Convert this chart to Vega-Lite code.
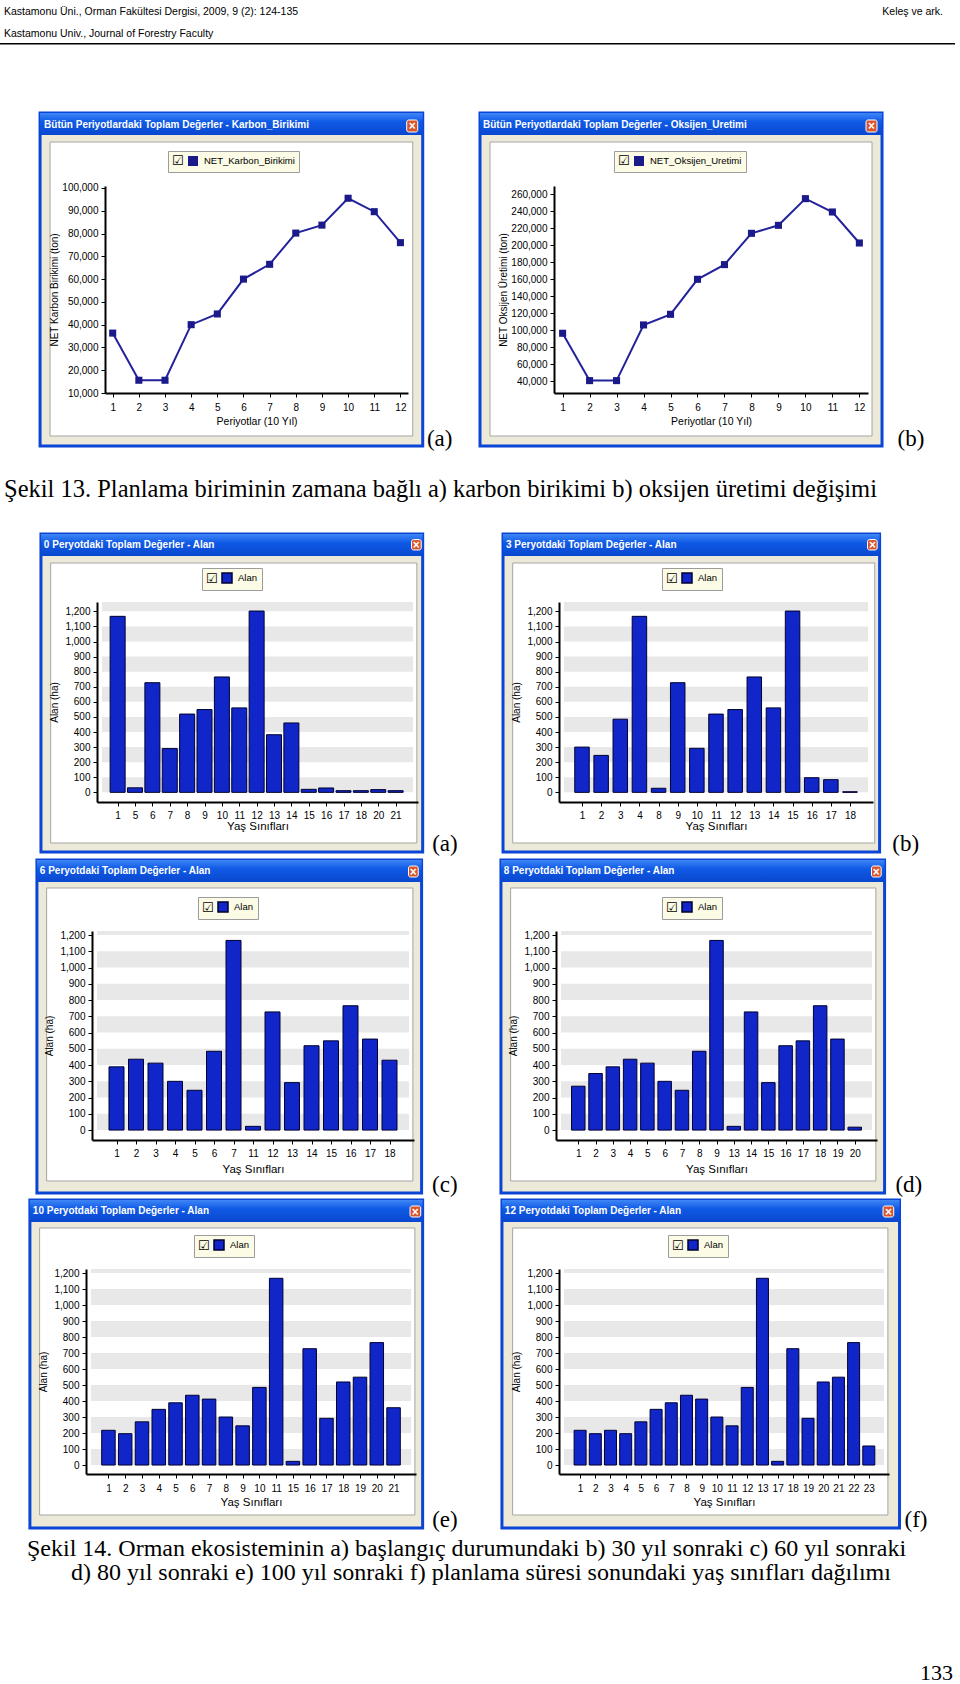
{
"$schema": "https://vega.github.io/schema/vega-lite/v6.json",
"background": "#ffffff",
"padding": 0,
"autosize": {"type": "pad"},
"spacing": 0,
"bounds": "flush",
"config": {
 "view": {"stroke": null},
 "axis": {"grid": false, "zindex": 1, "domainColor": "#000000", "domainWidth": 2, "tickColor": "#000000", "tickSize": 4, "tickWidth": 1, "labelFont": "Liberation Sans", "labelFontSize": 10, "labelColor": "#000000", "labelPadding": 3, "titleFont": "Liberation Sans", "titleFontSize": 10, "titleFontWeight": "normal", "titleColor": "#000000", "labelFlush": false, "labelOverlap": false},
 "legend": {"orient": "none", "direction": "horizontal", "fillColor": "#fbfbe6", "strokeColor": "#9c9c9c", "padding": 4, "labelFont": "Liberation Sans", "labelFontSize": 9.5, "labelColor": "#000000", "labelOffset": 5, "titleFont": "DejaVu Sans", "titleFontSize": 13, "titleFontWeight": "normal", "titleColor": "#000000", "titleOrient": "left", "titlePadding": 3, "symbolType": "square", "symbolSize": 100},
 "style": {
  "win": {"stroke": "#0b45d6", "strokeWidth": 3},
  "ttl": {"align": "left", "baseline": "middle", "color": "#ffffff", "font": "Liberation Sans", "fontSize": 10, "fontWeight": "bold"},
  "clsr": {"stroke": "#ffffff", "strokeWidth": 1, "cornerRadius": 2},
  "clst": {"color": "#ffffff", "font": "Liberation Sans", "fontSize": 12, "fontWeight": "bold", "baseline": "middle", "align": "center"},
  "panel": {"stroke": "#a5a5a5", "strokeWidth": 1},
  "lbl": {"font": "Liberation Serif", "fontSize": 23, "color": "#000000", "baseline": "middle", "align": "center"},
  "hdr": {"font": "Liberation Sans", "fontSize": 10.5, "color": "#000000", "baseline": "middle"},
  "cap": {"font": "Liberation Serif", "fontSize": 24.5, "color": "#000000", "baseline": "middle"}
 }
},
"datasets": {
 "karbon": [{"p":1,"v":36300},{"p":2,"v":15600},{"p":3,"v":15600},{"p":4,"v":40000},{"p":5,"v":44700},{"p":6,"v":60000},{"p":7,"v":66500},{"p":8,"v":80200},{"p":9,"v":83700},{"p":10,"v":95500},{"p":11,"v":89600},{"p":12,"v":76000}],
 "oksijen": [{"p":1,"v":96500},{"p":2,"v":40800},{"p":3,"v":40800},{"p":4,"v":106300},{"p":5,"v":118800},{"p":6,"v":160000},{"p":7,"v":177300},{"p":8,"v":214100},{"p":9,"v":223500},{"p":10,"v":254900},{"p":11,"v":239200},{"p":12,"v":202700}],
 "bands": [{"lo":0,"hi":100},{"lo":200,"hi":300},{"lo":400,"hi":500},{"lo":600,"hi":700},{"lo":800,"hi":900},{"lo":1000,"hi":1100},{"lo":1200,"hi":1400}],
 "p0": [{"s":1,"ha":1167},{"s":5,"ha":30},{"s":6,"ha":727},{"s":7,"ha":290},{"s":8,"ha":519},{"s":9,"ha":549},{"s":10,"ha":765},{"s":11,"ha":560},{"s":12,"ha":1202},{"s":13,"ha":382},{"s":14,"ha":460},{"s":15,"ha":20},{"s":16,"ha":29},{"s":17,"ha":11},{"s":18,"ha":11},{"s":20,"ha":18},{"s":21,"ha":11}],
 "p3": [{"s":1,"ha":300},{"s":2,"ha":245},{"s":3,"ha":485},{"s":4,"ha":1167},{"s":8,"ha":27},{"s":9,"ha":727},{"s":10,"ha":292},{"s":11,"ha":519},{"s":12,"ha":549},{"s":13,"ha":765},{"s":14,"ha":560},{"s":15,"ha":1202},{"s":16,"ha":97},{"s":17,"ha":84},{"s":18,"ha":4}],
 "p6": [{"s":1,"ha":389},{"s":2,"ha":436},{"s":3,"ha":412},{"s":4,"ha":300},{"s":5,"ha":245},{"s":6,"ha":485},{"s":7,"ha":1167},{"s":11,"ha":23},{"s":12,"ha":727},{"s":13,"ha":292},{"s":14,"ha":519},{"s":15,"ha":549},{"s":16,"ha":765},{"s":17,"ha":560},{"s":18,"ha":430}],
 "p8": [{"s":1,"ha":270},{"s":2,"ha":348},{"s":3,"ha":389},{"s":4,"ha":436},{"s":5,"ha":412},{"s":6,"ha":300},{"s":7,"ha":245},{"s":8,"ha":485},{"s":9,"ha":1167},{"s":13,"ha":23},{"s":14,"ha":727},{"s":15,"ha":292},{"s":16,"ha":519},{"s":17,"ha":549},{"s":18,"ha":765},{"s":19,"ha":560},{"s":20,"ha":18}],
 "p10": [{"s":1,"ha":217},{"s":2,"ha":196},{"s":3,"ha":270},{"s":4,"ha":348},{"s":5,"ha":389},{"s":6,"ha":436},{"s":7,"ha":412},{"s":8,"ha":300},{"s":9,"ha":245},{"s":10,"ha":485},{"s":11,"ha":1167},{"s":15,"ha":23},{"s":16,"ha":727},{"s":17,"ha":292},{"s":18,"ha":519},{"s":19,"ha":549},{"s":20,"ha":765},{"s":21,"ha":358}],
 "p12": [{"s":1,"ha":217},{"s":2,"ha":196},{"s":3,"ha":217},{"s":4,"ha":196},{"s":5,"ha":270},{"s":6,"ha":348},{"s":7,"ha":389},{"s":8,"ha":436},{"s":9,"ha":412},{"s":10,"ha":300},{"s":11,"ha":245},{"s":12,"ha":485},{"s":13,"ha":1167},{"s":17,"ha":23},{"s":18,"ha":727},{"s":19,"ha":292},{"s":20,"ha":519},{"s":21,"ha":549},{"s":22,"ha":765},{"s":23,"ha":119}]
},
"vconcat": [
 {"width": 960, "height": 24, "data": {"values": [{}]}, "layer": [
  {"mark": {"type": "text", "style": "hdr", "align": "left", "dx": 4}, "encoding": {"x": {"datum": 0, "type": "quantitative", "scale": {"domain": [0, 1], "nice": false}, "axis": null}, "text": {"value": "Kastamonu Üni., Orman Fakültesi Dergisi, 2009, 9 (2): 124-135"}}},
  {"mark": {"type": "text", "style": "hdr", "align": "right", "dx": -17}, "encoding": {"x": {"datum": 1, "type": "quantitative", "axis": null}, "text": {"value": "Keleş ve ark."}}}
 ]},
 {"width": 960, "height": 19, "data": {"values": [{}]}, "mark": {"type": "text", "style": "hdr", "align": "left", "dx": 4}, "encoding": {"x": {"datum": 0, "type": "quantitative", "scale": {"domain": [0, 1], "nice": false}, "axis": null}, "text": {"value": "Kastamonu Univ., Journal of Forestry Faculty"}}},
 {"width": 955, "height": 1.5, "data": {"values": []}, "mark": "point", "view": {"fill": "#000000"}},
 {"width": 1, "height": 140.5, "data": {"values": []}, "mark": "point"},
 {"width": 960, "height": 207,
  "resolve": {"scale": {"x": "independent", "y": "independent", "color": "independent"}, "axis": {"x": "independent", "y": "independent"}, "legend": {"color": "independent"}},
  "layer": [
  {"resolve": {"axis": {"x": "independent", "y": "independent"}}, "layer": [
   {"data": {"values": [{}]}, "mark": {"type": "rect", "style": "win", "fill": "#ece9d8"}, "encoding": {"x": {"datum": -1.777, "axis": null}, "x2": {"datum": 12.853}, "y": {"datum": -13267, "axis": null}, "y2": {"datum": 132920}}},
   {"data": {"values": [{}]}, "mark": {"type": "rect", "fill": {"gradient": "linear", "x1": 0, "y1": 0, "x2": 0, "y2": 1, "stops": [{"offset": 0, "color": "#3f86f6"}, {"offset": 0.4, "color": "#0f5ae6"}, {"offset": 1, "color": "#0a47cf"}]}}, "encoding": {"x": {"datum": -1.777, "axis": null}, "x2": {"datum": 12.853}, "y": {"datum": 123262, "axis": null}, "y2": {"datum": 132920}}},
   {"data": {"values": [{}]}, "mark": {"type": "text", "style": "ttl"}, "encoding": {"x": {"datum": -1.624, "axis": null}, "y": {"datum": 127652, "axis": null}, "text": {"value": "Bütün Periyotlardaki Toplam Değerler - Karbon_Birikimi"}}},
   {"data": {"values": [{}]}, "mark": {"type": "rect", "style": "clsr", "fill": "#d9552d"}, "encoding": {"x": {"datum": 12.241, "axis": null}, "x2": {"datum": 12.662}, "y": {"datum": 124579, "axis": null}, "y2": {"datum": 129847}}},
   {"data": {"values": [{}]}, "mark": {"type": "text", "style": "clst"}, "encoding": {"x": {"datum": 12.4515, "axis": null}, "y": {"datum": 127213, "axis": null}, "text": {"value": "×"}}},
   {"data": {"values": [{}]}, "mark": {"type": "rect", "style": "panel", "fill": "#ffffff"}, "encoding": {"x": {"datum": -1.395, "axis": null}, "x2": {"datum": 12.471}, "y": {"datum": -8877, "axis": null}, "y2": {"datum": 120189}}},
   {"data": {"name": "karbon"}, "mark": {"type": "line", "color": "#22229c", "strokeWidth": 2}, "encoding": {
     "x": {"field": "p", "type": "quantitative", "scale": {"domain": [0.706, 12.29], "range": [105, 408], "nice": false, "zero": false}, "axis": {"orient": "bottom", "zindex": 1, "values": [1,2,3,4,5,6,7,8,9,10,11,12], "format": "d", "title": "Periyotlar (10 Yıl)", "labelPadding": 5, "titlePadding": 4, "titleFontSize": 10.5}},
     "y": {"field": "v", "type": "quantitative", "scale": {"domain": [10000, 100873], "nice": false, "zero": false}, "axis": {"orient": "left", "offset": -105, "zindex": 1, "values": [10000,20000,30000,40000,50000,60000,70000,80000,90000,100000], "format": ",d", "title": "NET Karbon Birikimi (ton)", "titlePadding": 2}}}},
   {"data": {"name": "karbon"}, "mark": {"type": "point", "shape": "square", "filled": true, "size": 50, "opacity": 1}, "encoding": {
     "x": {"field": "p", "type": "quantitative", "axis": null},
     "y": {"field": "v", "type": "quantitative", "axis": null},
     "color": {"datum": "NET_Karbon_Birikimi", "type": "nominal", "scale": {"range": ["#1a1a8a"]}, "legend": {"title": "☑", "legendX": 168, "legendY": -35}}}},
   {"data": {"values": [{}]}, "mark": {"type": "text", "style": "lbl"}, "encoding": {"x": {"datum": 13.502, "axis": null}, "y": {"datum": -10194, "axis": null}, "text": {"value": "(a)"}}}
  ]},
  {"resolve": {"axis": {"x": "independent", "y": "independent"}}, "layer": [
   {"data": {"values": [{}]}, "mark": {"type": "rect", "style": "win", "fill": "#ece9d8"}, "encoding": {"x": {"datum": -2.062, "axis": null}, "x2": {"datum": 12.84}, "y": {"datum": -36120, "axis": null}, "y2": {"datum": 355655}}},
   {"data": {"values": [{}]}, "mark": {"type": "rect", "fill": {"gradient": "linear", "x1": 0, "y1": 0, "x2": 0, "y2": 1, "stops": [{"offset": 0, "color": "#3f86f6"}, {"offset": 0.4, "color": "#0f5ae6"}, {"offset": 1, "color": "#0a47cf"}]}}, "encoding": {"x": {"datum": -2.062, "axis": null}, "x2": {"datum": 12.84}, "y": {"datum": 329772, "axis": null}, "y2": {"datum": 355655}}},
   {"data": {"values": [{}]}, "mark": {"type": "text", "style": "ttl"}, "encoding": {"x": {"datum": -1.951, "axis": null}, "y": {"datum": 341537, "axis": null}, "text": {"value": "Bütün Periyotlardaki Toplam Değerler - Oksijen_Uretimi"}}},
   {"data": {"values": [{}]}, "mark": {"type": "rect", "style": "clsr", "fill": "#d9552d"}, "encoding": {"x": {"datum": 12.247, "axis": null}, "x2": {"datum": 12.654}, "y": {"datum": 333302, "axis": null}, "y2": {"datum": 347420}}},
   {"data": {"values": [{}]}, "mark": {"type": "text", "style": "clst"}, "encoding": {"x": {"datum": 12.45, "axis": null}, "y": {"datum": 340361, "axis": null}, "text": {"value": "×"}}},
   {"data": {"values": [{}]}, "mark": {"type": "rect", "style": "panel", "fill": "#ffffff"}, "encoding": {"x": {"datum": -1.691, "axis": null}, "x2": {"datum": 12.469}, "y": {"datum": -24355, "axis": null}, "y2": {"datum": 321537}}},
   {"data": {"name": "oksijen"}, "mark": {"type": "line", "color": "#22229c", "strokeWidth": 2}, "encoding": {
     "x": {"field": "p", "type": "quantitative", "scale": {"domain": [0.681, 12.32], "range": [554, 868], "nice": false, "zero": false}, "axis": {"orient": "bottom", "zindex": 1, "values": [1,2,3,4,5,6,7,8,9,10,11,12], "format": "d", "title": "Periyotlar (10 Yıl)", "labelPadding": 5, "titlePadding": 4, "titleFontSize": 10.5}},
     "y": {"field": "v", "type": "quantitative", "scale": {"domain": [26235, 269765], "nice": false, "zero": false}, "axis": {"orient": "left", "offset": -554, "zindex": 1, "values": [40000,60000,80000,100000,120000,140000,160000,180000,200000,220000,240000,260000], "format": ",d", "title": "NET Oksijen Üretimi (ton)", "titlePadding": 2}}}},
   {"data": {"name": "oksijen"}, "mark": {"type": "point", "shape": "square", "filled": true, "size": 50, "opacity": 1}, "encoding": {
     "x": {"field": "p", "type": "quantitative", "axis": null},
     "y": {"field": "v", "type": "quantitative", "axis": null},
     "color": {"datum": "NET_Oksijen_Uretimi", "type": "nominal", "scale": {"range": ["#1a1a8a"]}, "legend": {"title": "☑", "legendX": 614, "legendY": -35}}}},
   {"data": {"values": [{}]}, "mark": {"type": "text", "style": "lbl"}, "encoding": {"x": {"datum": 13.915, "axis": null}, "y": {"datum": -27884, "axis": null}, "text": {"value": "(b)"}}}
  ]}
 ]},
 {"width": 960, "height": 194, "data": {"values": [{}]}, "mark": {"type": "text", "style": "cap", "align": "left", "dx": 4}, "encoding": {"x": {"datum": 0, "type": "quantitative", "scale": {"domain": [0, 1], "nice": false}, "axis": null}, "text": {"value": "Şekil 13. Planlama biriminin zamana bağlı a) karbon birikimi b) oksijen üretimi değişimi"}}},
 {"width": 1, "height": 15, "data": {"values": []}, "mark": "point"},
 {"width": 960, "height": 200,
  "resolve": {"scale": {"x": "independent", "y": "independent", "color": "independent"}, "axis": {"x": "independent", "y": "independent"}, "legend": {"color": "independent"}},
  "layer": [
  {"resolve": {"axis": {"x": "independent", "y": "independent"}}, "layer": [
   {"data": {"values": [{}]}, "mark": {"type": "rect", "style": "win", "fill": "#ece9d8"}, "encoding": {"x": {"datum": -3.413, "axis": null}, "x2": {"datum": 18.557}, "y": {"datum": -395.5, "axis": null}, "y2": {"datum": 1712.8}}},
   {"data": {"values": [{}]}, "mark": {"type": "rect", "fill": {"gradient": "linear", "x1": 0, "y1": 0, "x2": 0, "y2": 1, "stops": [{"offset": 0, "color": "#3f86f6"}, {"offset": 0.4, "color": "#0f5ae6"}, {"offset": 1, "color": "#0a47cf"}]}}, "encoding": {"x": {"datum": -3.413, "axis": null}, "x2": {"datum": 18.557}, "y": {"datum": 1567, "axis": null}, "y2": {"datum": 1712.8}}},
   {"data": {"values": [{}]}, "mark": {"type": "text", "style": "ttl"}, "encoding": {"x": {"datum": -3.246, "axis": null}, "y": {"datum": 1640, "axis": null}, "text": {"value": "0 Peryotdaki Toplam Değerler - Alan"}}},
   {"data": {"values": [{}]}, "mark": {"type": "rect", "style": "clsr", "fill": "#d9552d"}, "encoding": {"x": {"datum": 17.916, "axis": null}, "x2": {"datum": 18.473}, "y": {"datum": 1607, "axis": null}, "y2": {"datum": 1676}}},
   {"data": {"values": [{}]}, "mark": {"type": "text", "style": "clst"}, "encoding": {"x": {"datum": 18.19, "axis": null}, "y": {"datum": 1641.5, "axis": null}, "text": {"value": "×"}}},
   {"data": {"values": [{}]}, "mark": {"type": "rect", "style": "panel", "fill": "#ffffff"}, "encoding": {"x": {"datum": -2.855, "axis": null}, "x2": {"datum": 18.222}, "y": {"datum": -335.8, "axis": null}, "y2": {"datum": 1520.6}}},
   {"data": {"name": "bands"}, "mark": {"type": "rect", "fill": "#e8e8e8", "clip": true}, "encoding": {"x": {"datum": 0.1, "axis": null}, "x2": {"datum": 18}, "y": {"field": "lo", "type": "quantitative", "axis": null}, "y2": {"field": "hi"}}},
   {"data": {"name": "p0"}, "transform": [{"window": [{"op": "row_number", "as": "i"}]}], "mark": {"type": "bar", "orient": "vertical", "width": 15, "stroke": "#000030", "strokeWidth": 1}, "encoding": {
     "x": {"field": "i", "type": "quantitative", "scale": {"domain": [0.1, 18], "range": [97, 418], "nice": false, "zero": false}, "axis": {"orient": "bottom", "zindex": 1, "values": [1,2,3,4,5,6,7,8,9,10,11,12,13,14,15,16,17], "labelExpr": "[1,5,6,7,8,9,10,11,12,13,14,15,16,17,18,20,21][datum.value-1]", "title": "Yaş Sınıfları", "titleFontSize": 11.5, "labelPadding": 4, "titlePadding": 0}},
     "y": {"field": "ha", "type": "quantitative", "scale": {"domain": [-64, 1262], "nice": false}, "axis": {"orient": "left", "offset": -97, "zindex": 1, "values": [0,100,200,300,400,500,600,700,800,900,1000,1100,1200], "format": ",d", "title": "Alan (ha)", "titlePadding": 5}},
     "color": {"datum": "Alan", "type": "nominal", "scale": {"range": ["#1126c8"]}, "legend": {"title": "☑", "legendX": 202, "legendY": -34, "encode": {"symbols": {"update": {"stroke": {"value": "#000030"}, "strokeWidth": {"value": 1}}}}}}}},
   {"data": {"values": [{}]}, "mark": {"type": "text", "style": "lbl"}, "encoding": {"x": {"datum": 19.84, "axis": null}, "y": {"datum": -342.5, "axis": null}, "text": {"value": "(a)"}}}
  ]},
  {"resolve": {"axis": {"x": "independent", "y": "independent"}}, "layer": [
   {"data": {"values": [{}]}, "mark": {"type": "rect", "style": "win", "fill": "#ece9d8"}, "encoding": {"x": {"datum": -3.126, "axis": null}, "x2": {"datum": 16.546}, "y": {"datum": -395.5, "axis": null}, "y2": {"datum": 1712.8}}},
   {"data": {"values": [{}]}, "mark": {"type": "rect", "fill": {"gradient": "linear", "x1": 0, "y1": 0, "x2": 0, "y2": 1, "stops": [{"offset": 0, "color": "#3f86f6"}, {"offset": 0.4, "color": "#0f5ae6"}, {"offset": 1, "color": "#0a47cf"}]}}, "encoding": {"x": {"datum": -3.126, "axis": null}, "x2": {"datum": 16.546}, "y": {"datum": 1567, "axis": null}, "y2": {"datum": 1712.8}}},
   {"data": {"values": [{}]}, "mark": {"type": "text", "style": "ttl"}, "encoding": {"x": {"datum": -2.974, "axis": null}, "y": {"datum": 1640, "axis": null}, "text": {"value": "3 Peryotdaki Toplam Değerler - Alan"}}},
   {"data": {"values": [{}]}, "mark": {"type": "rect", "style": "clsr", "fill": "#d9552d"}, "encoding": {"x": {"datum": 15.914, "axis": null}, "x2": {"datum": 16.419}, "y": {"datum": 1607, "axis": null}, "y2": {"datum": 1676}}},
   {"data": {"values": [{}]}, "mark": {"type": "text", "style": "clst"}, "encoding": {"x": {"datum": 16.17, "axis": null}, "y": {"datum": 1641.5, "axis": null}, "text": {"value": "×"}}},
   {"data": {"values": [{}]}, "mark": {"type": "rect", "style": "panel", "fill": "#ffffff"}, "encoding": {"x": {"datum": -2.62, "axis": null}, "x2": {"datum": 16.293}, "y": {"datum": -335.8, "axis": null}, "y2": {"datum": 1520.6}}},
   {"data": {"name": "bands"}, "mark": {"type": "rect", "fill": "#e8e8e8", "clip": true}, "encoding": {"x": {"datum": 0.06, "axis": null}, "x2": {"datum": 15.94}, "y": {"field": "lo", "type": "quantitative", "axis": null}, "y2": {"field": "hi"}}},
   {"data": {"name": "p3"}, "transform": [{"window": [{"op": "row_number", "as": "i"}]}], "mark": {"type": "bar", "orient": "vertical", "width": 14.5, "stroke": "#000030", "strokeWidth": 1}, "encoding": {
     "x": {"field": "i", "type": "quantitative", "scale": {"domain": [0.06, 15.94], "range": [559, 873], "nice": false, "zero": false}, "axis": {"orient": "bottom", "zindex": 1, "values": [1,2,3,4,5,6,7,8,9,10,11,12,13,14,15], "labelExpr": "[1,2,3,4,8,9,10,11,12,13,14,15,16,17,18][datum.value-1]", "title": "Yaş Sınıfları", "titleFontSize": 11.5, "labelPadding": 4, "titlePadding": 0}},
     "y": {"field": "ha", "type": "quantitative", "scale": {"domain": [-64, 1262], "nice": false}, "axis": {"orient": "left", "offset": -559, "zindex": 1, "values": [0,100,200,300,400,500,600,700,800,900,1000,1100,1200], "format": ",d", "title": "Alan (ha)", "titlePadding": 5}},
     "color": {"datum": "Alan", "type": "nominal", "scale": {"range": ["#1126c8"]}, "legend": {"title": "☑", "legendX": 662, "legendY": -34, "encode": {"symbols": {"update": {"stroke": {"value": "#000030"}, "strokeWidth": {"value": 1}}}}}}}},
   {"data": {"values": [{}]}, "mark": {"type": "text", "style": "lbl"}, "encoding": {"x": {"datum": 17.911, "axis": null}, "y": {"datum": -342.5, "axis": null}, "text": {"value": "(b)"}}}
  ]}
 ]},
 {"width": 1, "height": 129, "data": {"values": []}, "mark": "point"},
 {"width": 960, "height": 209,
  "resolve": {"scale": {"x": "independent", "y": "independent", "color": "independent"}, "axis": {"x": "independent", "y": "independent"}, "legend": {"color": "independent"}},
  "layer": [
  {"resolve": {"axis": {"x": "independent", "y": "independent"}}, "layer": [
   {"data": {"values": [{}]}, "mark": {"type": "rect", "style": "win", "fill": "#ece9d8"}, "encoding": {"x": {"datum": -3.081, "axis": null}, "x2": {"datum": 16.646}, "y": {"datum": -387.1, "axis": null}, "y2": {"datum": 1661.8}}},
   {"data": {"values": [{}]}, "mark": {"type": "rect", "fill": {"gradient": "linear", "x1": 0, "y1": 0, "x2": 0, "y2": 1, "stops": [{"offset": 0, "color": "#3f86f6"}, {"offset": 0.4, "color": "#0f5ae6"}, {"offset": 1, "color": "#0a47cf"}]}}, "encoding": {"x": {"datum": -3.081, "axis": null}, "x2": {"datum": 16.646}, "y": {"datum": 1526.5, "axis": null}, "y2": {"datum": 1661.8}}},
   {"data": {"values": [{}]}, "mark": {"type": "text", "style": "ttl"}, "encoding": {"x": {"datum": -2.932, "axis": null}, "y": {"datum": 1594.2, "axis": null}, "text": {"value": "6 Peryotdaki Toplam Değerler - Alan"}}},
   {"data": {"values": [{}]}, "mark": {"type": "rect", "style": "clsr", "fill": "#d9552d"}, "encoding": {"x": {"datum": 15.975, "axis": null}, "x2": {"datum": 16.472}, "y": {"datum": 1557.2, "axis": null}, "y2": {"datum": 1624.9}}},
   {"data": {"values": [{}]}, "mark": {"type": "text", "style": "clst"}, "encoding": {"x": {"datum": 16.22, "axis": null}, "y": {"datum": 1591, "axis": null}, "text": {"value": "×"}}},
   {"data": {"values": [{}]}, "mark": {"type": "rect", "style": "panel", "fill": "#ffffff"}, "encoding": {"x": {"datum": -2.584, "axis": null}, "x2": {"datum": 16.199}, "y": {"datum": -313.3, "axis": null}, "y2": {"datum": 1489.6}}},
   {"data": {"name": "bands"}, "mark": {"type": "rect", "fill": "#e8e8e8", "clip": true}, "encoding": {"x": {"datum": 0, "axis": null}, "x2": {"datum": 16}, "y": {"field": "lo", "type": "quantitative", "axis": null}, "y2": {"field": "hi"}}},
   {"data": {"name": "p6"}, "transform": [{"window": [{"op": "row_number", "as": "i"}]}], "mark": {"type": "bar", "orient": "vertical", "width": 15, "stroke": "#000030", "strokeWidth": 1}, "encoding": {
     "x": {"field": "i", "type": "quantitative", "scale": {"domain": [0, 16], "range": [92, 414], "nice": false, "zero": false}, "axis": {"orient": "bottom", "zindex": 1, "values": [1,2,3,4,5,6,7,8,9,10,11,12,13,14,15], "labelExpr": "[1,2,3,4,5,6,7,11,12,13,14,15,16,17,18][datum.value-1]", "title": "Yaş Sınıfları", "titleFontSize": 11.5, "labelPadding": 4, "titlePadding": 5}},
     "y": {"field": "ha", "type": "quantitative", "scale": {"domain": [-61, 1225], "nice": false}, "axis": {"orient": "left", "offset": -92, "zindex": 1, "values": [0,100,200,300,400,500,600,700,800,900,1000,1100,1200], "format": ",d", "title": "Alan (ha)", "titlePadding": 5}},
     "color": {"datum": "Alan", "type": "nominal", "scale": {"range": ["#1126c8"]}, "legend": {"title": "☑", "legendX": 198, "legendY": -34, "encode": {"symbols": {"update": {"stroke": {"value": "#000030"}, "strokeWidth": {"value": 1}}}}}}}},
   {"data": {"values": [{}]}, "mark": {"type": "text", "style": "lbl"}, "encoding": {"x": {"datum": 17.839, "axis": null}, "y": {"datum": -337.9, "axis": null}, "text": {"value": "(c)"}}}
  ]},
  {"resolve": {"axis": {"x": "independent", "y": "independent"}}, "layer": [
   {"data": {"values": [{}]}, "mark": {"type": "rect", "style": "win", "fill": "#ece9d8"}, "encoding": {"x": {"datum": -3.476, "axis": null}, "x2": {"datum": 18.728}, "y": {"datum": -387.1, "axis": null}, "y2": {"datum": 1661.8}}},
   {"data": {"values": [{}]}, "mark": {"type": "rect", "fill": {"gradient": "linear", "x1": 0, "y1": 0, "x2": 0, "y2": 1, "stops": [{"offset": 0, "color": "#3f86f6"}, {"offset": 0.4, "color": "#0f5ae6"}, {"offset": 1, "color": "#0a47cf"}]}}, "encoding": {"x": {"datum": -3.476, "axis": null}, "x2": {"datum": 18.728}, "y": {"datum": 1526.5, "axis": null}, "y2": {"datum": 1661.8}}},
   {"data": {"values": [{}]}, "mark": {"type": "text", "style": "ttl"}, "encoding": {"x": {"datum": -3.308, "axis": null}, "y": {"datum": 1594.2, "axis": null}, "text": {"value": "8 Peryotdaki Toplam Değerler - Alan"}}},
   {"data": {"values": [{}]}, "mark": {"type": "rect", "style": "clsr", "fill": "#d9552d"}, "encoding": {"x": {"datum": 17.971, "axis": null}, "x2": {"datum": 18.531}, "y": {"datum": 1557.2, "axis": null}, "y2": {"datum": 1624.9}}},
   {"data": {"values": [{}]}, "mark": {"type": "text", "style": "clst"}, "encoding": {"x": {"datum": 18.25, "axis": null}, "y": {"datum": 1591, "axis": null}, "text": {"value": "×"}}},
   {"data": {"values": [{}]}, "mark": {"type": "rect", "style": "panel", "fill": "#ffffff"}, "encoding": {"x": {"datum": -2.916, "axis": null}, "x2": {"datum": 18.223}, "y": {"datum": -313.3, "axis": null}, "y2": {"datum": 1489.6}}},
   {"data": {"name": "bands"}, "mark": {"type": "rect", "fill": "#e8e8e8", "clip": true}, "encoding": {"x": {"datum": 0, "axis": null}, "x2": {"datum": 18}, "y": {"field": "lo", "type": "quantitative", "axis": null}, "y2": {"field": "hi"}}},
   {"data": {"name": "p8"}, "transform": [{"window": [{"op": "row_number", "as": "i"}]}], "mark": {"type": "bar", "orient": "vertical", "width": 13.5, "stroke": "#000030", "strokeWidth": 1}, "encoding": {
     "x": {"field": "i", "type": "quantitative", "scale": {"domain": [0, 18], "range": [556, 877], "nice": false, "zero": false}, "axis": {"orient": "bottom", "zindex": 1, "values": [1,2,3,4,5,6,7,8,9,10,11,12,13,14,15,16,17], "labelExpr": "[1,2,3,4,5,6,7,8,9,13,14,15,16,17,18,19,20][datum.value-1]", "title": "Yaş Sınıfları", "titleFontSize": 11.5, "labelPadding": 4, "titlePadding": 5}},
     "y": {"field": "ha", "type": "quantitative", "scale": {"domain": [-61, 1225], "nice": false}, "axis": {"orient": "left", "offset": -556, "zindex": 1, "values": [0,100,200,300,400,500,600,700,800,900,1000,1100,1200], "format": ",d", "title": "Alan (ha)", "titlePadding": 5}},
     "color": {"datum": "Alan", "type": "nominal", "scale": {"range": ["#1126c8"]}, "legend": {"title": "☑", "legendX": 662, "legendY": -34, "encode": {"symbols": {"update": {"stroke": {"value": "#000030"}, "strokeWidth": {"value": 1}}}}}}}},
   {"data": {"values": [{}]}, "mark": {"type": "text", "style": "lbl"}, "encoding": {"x": {"datum": 20.129, "axis": null}, "y": {"datum": -337.9, "axis": null}, "text": {"value": "(d)"}}}
  ]}
 ]},
 {"width": 1, "height": 129, "data": {"values": []}, "mark": "point"},
 {"width": 960, "height": 205,
  "resolve": {"scale": {"x": "independent", "y": "independent", "color": "independent"}, "axis": {"x": "independent", "y": "independent"}, "legend": {"color": "independent"}},
  "layer": [
  {"resolve": {"axis": {"x": "independent", "y": "independent"}}, "layer": [
   {"data": {"values": [{}]}, "mark": {"type": "rect", "style": "win", "fill": "#ece9d8"}, "encoding": {"x": {"datum": -3.683, "axis": null}, "x2": {"datum": 19.734}, "y": {"datum": -393.4, "axis": null}, "y2": {"datum": 1656.2}}},
   {"data": {"values": [{}]}, "mark": {"type": "rect", "fill": {"gradient": "linear", "x1": 0, "y1": 0, "x2": 0, "y2": 1, "stops": [{"offset": 0, "color": "#3f86f6"}, {"offset": 0.4, "color": "#0f5ae6"}, {"offset": 1, "color": "#0a47cf"}]}}, "encoding": {"x": {"datum": -3.683, "axis": null}, "x2": {"datum": 19.734}, "y": {"datum": 1518.7, "axis": null}, "y2": {"datum": 1656.2}}},
   {"data": {"values": [{}]}, "mark": {"type": "text", "style": "ttl"}, "encoding": {"x": {"datum": -3.509, "axis": null}, "y": {"datum": 1587.5, "axis": null}, "text": {"value": "10 Peryotdaki Toplam Değerler - Alan"}}},
   {"data": {"values": [{}]}, "mark": {"type": "rect", "style": "clsr", "fill": "#d9552d"}, "encoding": {"x": {"datum": 18.983, "axis": null}, "x2": {"datum": 19.619}, "y": {"datum": 1550, "axis": null}, "y2": {"datum": 1618.7}}},
   {"data": {"values": [{}]}, "mark": {"type": "text", "style": "clst"}, "encoding": {"x": {"datum": 19.3, "axis": null}, "y": {"datum": 1584.3, "axis": null}, "text": {"value": "×"}}},
   {"data": {"values": [{}]}, "mark": {"type": "rect", "style": "panel", "fill": "#ffffff"}, "encoding": {"x": {"datum": -3.104, "axis": null}, "x2": {"datum": 19.272}, "y": {"datum": -312.2, "axis": null}, "y2": {"datum": 1481.3}}},
   {"data": {"name": "bands"}, "mark": {"type": "rect", "fill": "#e8e8e8", "clip": true}, "encoding": {"x": {"datum": -0.04, "axis": null}, "x2": {"datum": 19.04}, "y": {"field": "lo", "type": "quantitative", "axis": null}, "y2": {"field": "hi"}}},
   {"data": {"name": "p10"}, "transform": [{"window": [{"op": "row_number", "as": "i"}]}], "mark": {"type": "bar", "orient": "vertical", "width": 13.5, "stroke": "#000030", "strokeWidth": 1}, "encoding": {
     "x": {"field": "i", "type": "quantitative", "scale": {"domain": [-0.04, 19.04], "range": [86, 416], "nice": false, "zero": false}, "axis": {"orient": "bottom", "zindex": 1, "values": [1,2,3,4,5,6,7,8,9,10,11,12,13,14,15,16,17,18], "labelExpr": "[1,2,3,4,5,6,7,8,9,10,11,15,16,17,18,19,20,21][datum.value-1]", "title": "Yaş Sınıfları", "titleFontSize": 11.5, "labelPadding": 5, "titlePadding": 3}},
     "y": {"field": "ha", "type": "quantitative", "scale": {"domain": [-56, 1225], "nice": false}, "axis": {"orient": "left", "offset": -86, "zindex": 1, "values": [0,100,200,300,400,500,600,700,800,900,1000,1100,1200], "format": ",d", "title": "Alan (ha)", "titlePadding": 5}},
     "color": {"datum": "Alan", "type": "nominal", "scale": {"range": ["#1126c8"]}, "legend": {"title": "☑", "legendX": 194, "legendY": -34, "encode": {"symbols": {"update": {"stroke": {"value": "#000030"}, "strokeWidth": {"value": 1}}}}}}}},
   {"data": {"values": [{}]}, "mark": {"type": "text", "style": "lbl"}, "encoding": {"x": {"datum": 21.064, "axis": null}, "y": {"datum": -343.5, "axis": null}, "text": {"value": "(e)"}}}
  ]},
  {"resolve": {"axis": {"x": "independent", "y": "independent"}}, "layer": [
   {"data": {"values": [{}]}, "mark": {"type": "rect", "style": "win", "fill": "#ece9d8"}, "encoding": {"x": {"datum": -4.144, "axis": null}, "x2": {"datum": 22.022}, "y": {"datum": -393.4, "axis": null}, "y2": {"datum": 1656.2}}},
   {"data": {"values": [{}]}, "mark": {"type": "rect", "fill": {"gradient": "linear", "x1": 0, "y1": 0, "x2": 0, "y2": 1, "stops": [{"offset": 0, "color": "#3f86f6"}, {"offset": 0.4, "color": "#0f5ae6"}, {"offset": 1, "color": "#0a47cf"}]}}, "encoding": {"x": {"datum": -4.144, "axis": null}, "x2": {"datum": 22.022}, "y": {"datum": 1518.7, "axis": null}, "y2": {"datum": 1656.2}}},
   {"data": {"values": [{}]}, "mark": {"type": "text", "style": "ttl"}, "encoding": {"x": {"datum": -3.953, "axis": null}, "y": {"datum": 1587.5, "axis": null}, "text": {"value": "12 Peryotdaki Toplam Değerler - Alan"}}},
   {"data": {"values": [{}]}, "mark": {"type": "rect", "style": "clsr", "fill": "#d9552d"}, "encoding": {"x": {"datum": 20.937, "axis": null}, "x2": {"datum": 21.639}, "y": {"datum": 1550, "axis": null}, "y2": {"datum": 1618.7}}},
   {"data": {"values": [{}]}, "mark": {"type": "text", "style": "clst"}, "encoding": {"x": {"datum": 21.29, "axis": null}, "y": {"datum": 1584.3, "axis": null}, "text": {"value": "×"}}},
   {"data": {"values": [{}]}, "mark": {"type": "rect", "style": "panel", "fill": "#ffffff"}, "encoding": {"x": {"datum": -3.442, "axis": null}, "x2": {"datum": 21.256}, "y": {"datum": -312.2, "axis": null}, "y2": {"datum": 1481.3}}},
   {"data": {"name": "bands"}, "mark": {"type": "rect", "fill": "#e8e8e8", "clip": true}, "encoding": {"x": {"datum": -0.06, "axis": null}, "x2": {"datum": 21}, "y": {"field": "lo", "type": "quantitative", "axis": null}, "y2": {"field": "hi"}}},
   {"data": {"name": "p12"}, "transform": [{"window": [{"op": "row_number", "as": "i"}]}], "mark": {"type": "bar", "orient": "vertical", "width": 12, "stroke": "#000030", "strokeWidth": 1}, "encoding": {
     "x": {"field": "i", "type": "quantitative", "scale": {"domain": [-0.06, 21], "range": [559, 889], "nice": false, "zero": false}, "axis": {"orient": "bottom", "zindex": 1, "values": [1,2,3,4,5,6,7,8,9,10,11,12,13,14,15,16,17,18,19,20], "labelExpr": "[1,2,3,4,5,6,7,8,9,10,11,12,13,17,18,19,20,21,22,23][datum.value-1]", "title": "Yaş Sınıfları", "titleFontSize": 11.5, "labelPadding": 5, "titlePadding": 3}},
     "y": {"field": "ha", "type": "quantitative", "scale": {"domain": [-56, 1225], "nice": false}, "axis": {"orient": "left", "offset": -559, "zindex": 1, "values": [0,100,200,300,400,500,600,700,800,900,1000,1100,1200], "format": ",d", "title": "Alan (ha)", "titlePadding": 5}},
     "color": {"datum": "Alan", "type": "nominal", "scale": {"range": ["#1126c8"]}, "legend": {"title": "☑", "legendX": 668, "legendY": -34, "encode": {"symbols": {"update": {"stroke": {"value": "#000030"}, "strokeWidth": {"value": 1}}}}}}}},
   {"data": {"values": [{}]}, "mark": {"type": "text", "style": "lbl"}, "encoding": {"x": {"datum": 23.107, "axis": null}, "y": {"datum": -343.5, "axis": null}, "text": {"value": "(f)"}}}
  ]}
 ]},
 {"width": 1, "height": 64, "data": {"values": []}, "mark": "point"},
 {"width": 960, "height": 21, "data": {"values": [{}]}, "mark": {"type": "text", "style": "cap", "align": "center", "fontSize": 24}, "encoding": {"x": {"datum": 0.486, "type": "quantitative", "scale": {"domain": [0, 1], "nice": false}, "axis": null}, "text": {"value": "Şekil 14. Orman ekosisteminin a) başlangıç durumundaki b) 30 yıl sonraki c) 60 yıl sonraki"}}},
 {"width": 960, "height": 28, "data": {"values": [{}]}, "mark": {"type": "text", "style": "cap", "align": "center", "fontSize": 24}, "encoding": {"x": {"datum": 0.501, "type": "quantitative", "scale": {"domain": [0, 1], "nice": false}, "axis": null}, "text": {"value": "d) 80 yıl sonraki e) 100 yıl sonraki f) planlama süresi sonundaki yaş sınıfları dağılımı"}}},
 {"width": 1, "height": 77, "data": {"values": []}, "mark": "point"},
 {"width": 960, "height": 18, "data": {"values": [{}]}, "mark": {"type": "text", "style": "cap", "align": "right", "dx": -7, "fontSize": 22}, "encoding": {"x": {"datum": 1, "type": "quantitative", "scale": {"domain": [0, 1], "nice": false}, "axis": null}, "text": {"value": "133"}}}
]
}
